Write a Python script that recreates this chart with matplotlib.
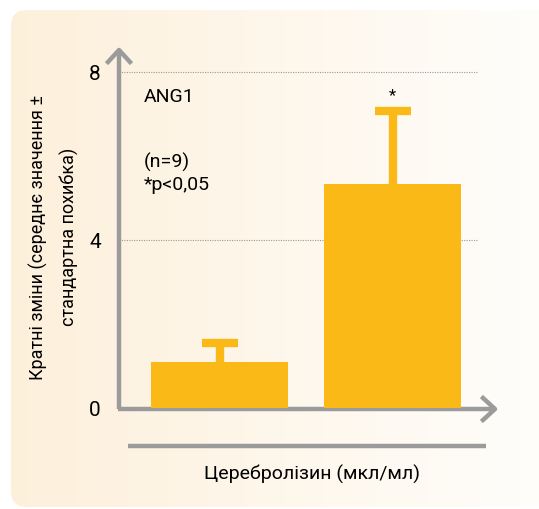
import matplotlib.pyplot as plt
import numpy as np
from matplotlib.patches import FancyBboxPatch

plt.rcParams['font.family'] = ['Roboto', 'DejaVu Sans']

# data
groups = ['контроль', 'Церебролізин']
means = [1.1, 5.33]
errs = [0.45, 1.73]
yticks = [0, 4, 8]

W, H = 539, 509
fig = plt.figure(figsize=(W / 100, H / 100), dpi=100)

def fx(px):
    return px / W

def fy(py):
    return 1 - py / H

# background panel with left->right gradient
bg = fig.add_axes([0, 0, 1, 1])
bg.set_xlim(0, W)
bg.set_ylim(H, 0)
bg.axis('off')
grad = np.linspace(0, 1, 256).reshape(1, -1)
c0 = np.array([253, 240, 219]) / 255
c1 = np.array([255, 254, 252]) / 255
img = c0[None, None, :] * (1 - grad[..., None]) + c1[None, None, :] * grad[..., None]
im = bg.imshow(img, extent=[11, W + 20, H - 1, 10], aspect='auto')
panel = FancyBboxPatch((11, 10), W + 10, H - 12, boxstyle='round,pad=0,rounding_size=16',
                       transform=bg.transData, facecolor='none', edgecolor='none')
bg.add_patch(panel)
im.set_clip_path(panel)

# main axes: x 119..495 px, y value 0 at 408 px, 42 px per unit
left, right = 119, 495
y0, top = 408, 50
ppu = 42.0
ax = fig.add_axes([fx(left), fy(y0), (right - left) / W, (y0 - top) / H])
ax.patch.set_alpha(0)
ax.set_ylim(0, (y0 - top) / ppu)
c_first, spacing = 219.5, 173.0
ax.set_xlim(-(c_first - left) / spacing, 1 + (right - (c_first + spacing)) / spacing)
for s in ax.spines.values():
    s.set_visible(False)

orange = '#fbb918'
gray = '#9b9b9b'
x = np.arange(len(groups))
ax.bar(x, means, width=137 / spacing, color=orange, zorder=3)
# upper error bars only: stem + cap
tops = np.array(means) + np.array(errs)
ax.vlines(x, means, tops, color=orange, lw=6, zorder=3)
half = 18 / spacing
ax.hlines(tops, x - half, x + half, color=orange, lw=6, zorder=3)

# dotted gridlines
for v in yticks[1:]:
    ax.plot([ax.get_xlim()[0], 1 + (477 - 392.5) / spacing], [v, v], ls=(0, (1, 1.2)),
            color='#999999', lw=0.8, zorder=1, clip_on=False)

ax.set_yticks(yticks)
ax.set_yticklabels([str(v) for v in yticks], fontsize=15)
ax.tick_params(axis='y', length=0, pad=13)
ax.set_xticks([])

ax.text(-0.44, 7.4, 'ANG1', fontsize=14, va='center')
ax.text(-0.44, 5.85, '(n=9)', fontsize=14, va='center')
ax.text(-0.44, 5.3, '*p<0,05', fontsize=14, va='center')
ax.text(1, tops[1] + 0.2, '*', fontsize=12, ha='center', va='bottom')

# axes with open arrow heads (drawn on bg in pixel coords)
lw = 3.2
bg.plot([left, left], [y0 + 1, top + 1], color=gray, lw=lw, solid_capstyle='butt', zorder=5)
bg.plot([left - 11, left, left + 11], [top + 12, top, top + 12], color=gray, lw=lw, zorder=5)
bg.plot([left - 1, right], [y0 + 1, y0 + 1], color=gray, lw=lw, solid_capstyle='butt', zorder=5)
bg.plot([right - 12, right, right - 12], [y0 - 10, y0 + 1, y0 + 12], color=gray, lw=lw, zorder=5)
bg.plot([128, 486], [446, 446], color=gray, lw=lw, solid_capstyle='butt', zorder=5)

bg.text(312, 474, 'Церебролізин (мкл/мл)', fontsize=14, ha='center', va='center')
bg.text(54, 237, 'Кратні зміни (середнє значення ±\nстандартна похибка)', fontsize=13,
        rotation=90, ha='center', va='center', linespacing=1.75, multialignment='center')

fig.savefig('out.png', dpi=100)
